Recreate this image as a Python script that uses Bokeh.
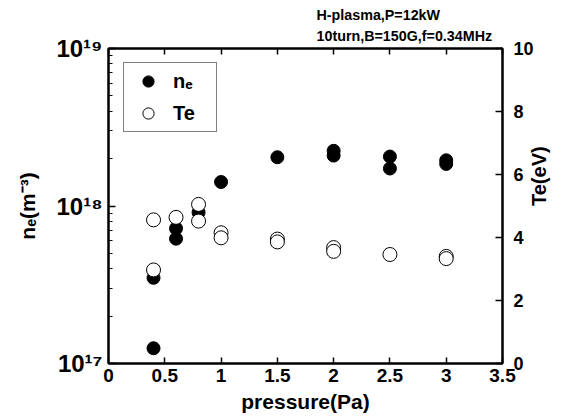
import math
from bokeh.plotting import figure
from bokeh.models import (Range1d, LinearScale, LinearAxis, FixedTicker, Legend,
                          LegendItem, Title, CustomLabelingPolicy)
from bokeh.embed import file_html
from bokeh.resources import INLINE

# ---- data ----
pressure_ne = [0.4, 0.4, 0.6, 0.6, 0.8, 1.0, 1.5, 2.0, 2.0, 2.5, 2.5, 3.0, 3.0]
ne = [1.25e17, 3.5e17, 6.2e17, 7.2e17, 9.1e17, 1.42e18, 2.04e18, 2.24e18,
      2.09e18, 2.06e18, 1.73e18, 1.95e18, 1.85e18]

pressure_te = [0.4, 0.4, 0.6, 0.8, 0.8, 1.0, 1.0, 1.5, 1.5, 2.0, 2.0, 2.5, 3.0, 3.0]
te = [4.56, 2.97, 4.64, 5.05, 4.52, 4.15, 3.99, 3.95, 3.86, 3.68, 3.56, 3.46, 3.40, 3.33]

x_ticks = [0, 0.5, 1, 1.5, 2, 2.5, 3, 3.5]
y_ticks = [1e17, 1e18, 1e19]
y_tick_labels = ["10\u00b9\u2077", "10\u00b9\u2078", "10\u00b9\u2079"]
te_ticks = [0, 2, 4, 6, 8, 10]
title_lines = ["H-plasma,P=12kW", "10turn,B=150G,f=0.34MHz"]

FONT = "Liberation Sans"

p = figure(frame_width=394, frame_height=315, y_axis_type="log",
           x_range=Range1d(0, 3.5), y_range=Range1d(1e17, 1e19),
           output_backend="svg", toolbar_location=None, title=None,
           min_border_left=108, min_border_top=48, min_border_right=59,
           min_border_bottom=57)
p.extra_y_ranges = {"te": Range1d(0, 10)}
p.extra_y_scales = {"te": LinearScale()}

p.grid.visible = False
p.outline_line_color = "black"
p.outline_line_width = 2
p.background_fill_color = "white"
p.border_fill_color = "white"

minor = [k * 10 ** e for e in (17, 18) for k in range(2, 10)]

def style_axis(ax, size="18px"):
    ax.axis_line_color = "black"
    ax.axis_line_width = 2
    ax.major_tick_line_color = "black"
    ax.major_tick_line_width = 1.5
    ax.minor_tick_line_color = "black"
    ax.minor_tick_line_width = 1.2
    ax.major_tick_in = 7
    ax.major_tick_out = 0
    ax.minor_tick_in = 4
    ax.minor_tick_out = 0
    ax.major_label_text_font = FONT
    ax.major_label_text_font_style = "bold"
    ax.major_label_text_font_size = size
    ax.major_label_text_color = "black"
    ax.axis_label_text_font = FONT
    ax.axis_label_text_font_style = "bold"
    ax.axis_label_text_color = "black"

# bottom axis
xa = p.xaxis[0]
xa.ticker = FixedTicker(ticks=x_ticks)
style_axis(xa, "19px")
xa.major_tick_in = 6
xa.major_label_standoff = 5
xa.axis_label = "pressure(Pa)"
xa.axis_label_text_font_size = "21px"
xa.axis_label_standoff = 5

# left axis
ya = p.yaxis[0]
ya.ticker = FixedTicker(ticks=y_ticks, minor_ticks=minor)
ya.major_label_overrides = {t: l for t, l in zip(y_ticks, y_tick_labels)}
style_axis(ya, "24px")
ya.major_label_standoff = 6
ya.axis_label = "n\u2091(m\u207b\u00b3)"
ya.axis_label_text_font_size = "21px"
ya.axis_label_standoff = 14

# right axis (Te)
ra = LinearAxis(y_range_name="te", ticker=FixedTicker(ticks=te_ticks))
style_axis(ra, "18px")
ra.major_label_standoff = 11
ra.axis_label = "Te(eV)"
ra.axis_label_text_font_size = "20px"
ra.axis_label_standoff = 2
ra.axis_label_orientation = math.pi / 2
p.add_layout(ra, "right")

# top axis (ticks only, no labels)
ta = LinearAxis(ticker=FixedTicker(ticks=x_ticks))
style_axis(ta, "0px")
ta.major_tick_in = 6
ta.major_label_standoff = 0
ta.major_label_policy = CustomLabelingPolicy(code="""
    for (const i of indices) { indices.unset(i) }
    return indices
""")
p.add_layout(ta, "above")

# two-line title block
p.add_layout(Title(text="\n".join(title_lines), align="left", offset=208,
                   text_font=FONT, text_font_style="bold",
                   text_font_size="14.3px", text_line_height=1.33,
                   text_color="black", standoff=8), "above")

r_ne = p.scatter(pressure_ne, ne, size=13, marker="circle",
                 fill_color="black", line_color="black")
r_te = p.scatter(pressure_te, te, size=14, marker="circle", y_range_name="te",
                 fill_color="white", line_color="black", line_width=1)

legend = Legend(items=[LegendItem(label="n\u2091", renderers=[r_ne]),
                       LegendItem(label="Te", renderers=[r_te])],
                location=(15, 231), padding=4, spacing=4,
                glyph_width=40, glyph_height=28, label_height=28,
                label_width=39, label_standoff=5, margin=0,
                label_text_font=FONT, label_text_font_style="bold",
                label_text_font_size="20px", label_text_color="black",
                border_line_color="black", border_line_width=1.2,
                background_fill_color="white", background_fill_alpha=1)
p.add_layout(legend, "center")

open("out.html", "w").write(file_html(p, INLINE))
